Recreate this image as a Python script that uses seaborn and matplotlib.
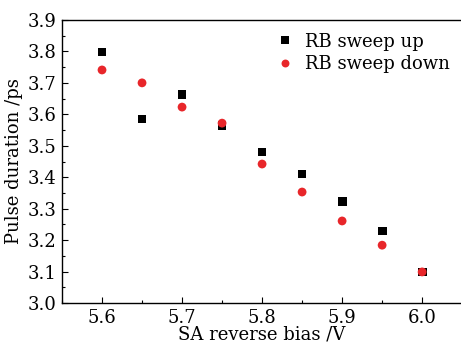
import matplotlib
matplotlib.use("Agg")
import matplotlib.pyplot as plt
import seaborn as sns
import pandas as pd
from matplotlib.ticker import MultipleLocator

bias = [5.60, 5.65, 5.70, 5.75, 5.80, 5.85, 5.90, 5.95, 6.00]
sweep_up = [3.798, 3.585, 3.662, 3.565, 3.480, 3.410, 3.324, 3.229, 3.099]
sweep_down = [3.741, 3.700, 3.623, 3.572, 3.442, 3.353, 3.261, 3.184, 3.099]
labels = ["RB sweep up", "RB sweep down"]

sns.set_style("ticks")
plt.rcParams['font.family'] = ['DejaVu Serif']
plt.rcParams['mathtext.fontset'] = 'dejavuserif'
plt.rcParams['text.color'] = 'black'
plt.rcParams['axes.labelcolor'] = 'black'
plt.rcParams['xtick.color'] = 'black'
plt.rcParams['ytick.color'] = 'black'

df = pd.DataFrame({
    "bias": bias * 2,
    "dur": sweep_up + sweep_down,
    "series": [labels[0]] * len(bias) + [labels[1]] * len(bias),
})

fig = plt.figure(figsize=(4.61, 3.44), dpi=100)
ax = fig.add_axes([0.1345, 0.119, 0.868, 0.823])
sns.scatterplot(data=df, x="bias", y="dur", hue="series", style="series",
                markers={labels[0]: "s", labels[1]: "o"},
                palette={labels[0]: "black", labels[1]: "#e8262a"},
                s=40, linewidth=0, ax=ax, legend=True)

ax.set_xlim(5.55, 6.05)
ax.set_ylim(3.0, 3.9)
ax.xaxis.set_major_locator(MultipleLocator(0.1))
ax.xaxis.set_minor_locator(MultipleLocator(0.05))
ax.yaxis.set_major_locator(MultipleLocator(0.1))
ax.yaxis.set_minor_locator(MultipleLocator(0.05))
ax.xaxis.set_major_formatter(plt.FuncFormatter(lambda v, p: f"{v:.1f}"))
ax.yaxis.set_major_formatter(plt.FuncFormatter(lambda v, p: f"{v:.1f}"))
ax.tick_params(axis="both", which="major", direction="in", length=4, width=0.8,
               labelsize=13, top=False, right=False, pad=4)
ax.tick_params(axis="both", which="minor", direction="in", length=2.5, width=0.8,
               top=False, right=False)
for sp in ax.spines.values():
    sp.set_linewidth(1.0)
    sp.set_color("black")

ax.set_xlabel("SA reverse bias /V", fontsize=13, labelpad=-1)
ax.set_ylabel("Pulse duration /ps", fontsize=13, labelpad=3)

leg = ax.legend(loc="upper right", bbox_to_anchor=(1.0, 1.0), frameon=False,
                fontsize=13, handletextpad=0.1, labelspacing=0.25,
                markerscale=0.9, borderaxespad=0.3)

fig.savefig("out.png", dpi=100)
